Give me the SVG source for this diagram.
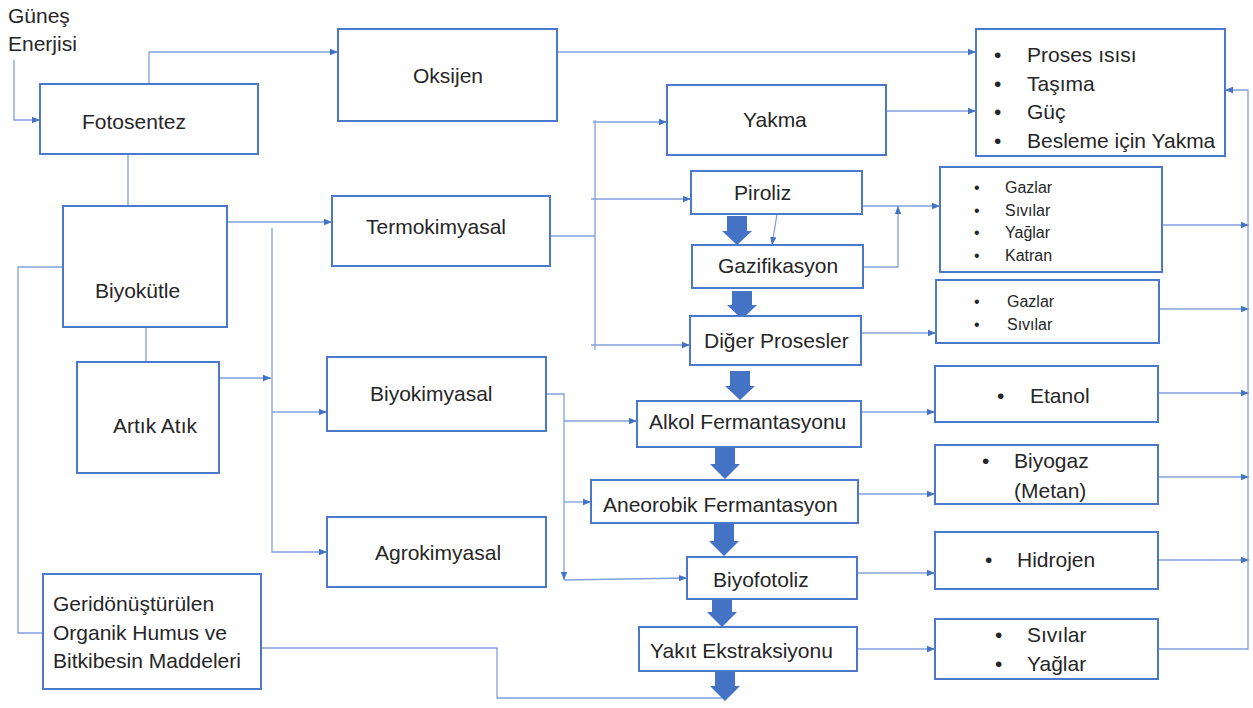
<svg xmlns="http://www.w3.org/2000/svg" width="1253" height="708" viewBox="0 0 1253 708">
<defs>
<marker id="ah" viewBox="0 0 10 10" refX="10" refY="5" markerWidth="8" markerHeight="8" markerUnits="userSpaceOnUse" orient="auto">
<path d="M0,1 L10,5 L0,9 z" fill="#4472C4"/>
</marker>
</defs>
<style>
.box{fill:#fff;stroke:#4A78CC;stroke-width:2}
.t{font-family:"Liberation Sans",Arial,sans-serif;font-size:21px;fill:#262626}
.s{font-family:"Liberation Sans",Arial,sans-serif;font-size:16px;fill:#262626}
.c{fill:none;stroke:#7FA0DC;stroke-width:1.3}
.a{marker-end:url(#ah)}
.big{fill:#4472C4}
</style>
<rect width="1253" height="708" fill="#fff"/>
<g id="connectors">
<path class="c a" d="M14,60 V120 H40"/>
<path class="c a" d="M149,84 V52 H338"/>
<path class="c a" d="M557,52 H976"/>
<path class="c" d="M128,154 V206"/>
<path class="c" d="M63,267 H18 V633 H43"/>
<path class="c" d="M146,327 V362"/>
<path class="c a" d="M227,222 H332"/>
<path class="c a" d="M272,228 V552 H327"/>
<path class="c a" d="M272,412 H327"/>
<path class="c a" d="M219,378 H271"/>
<path class="c" d="M550,236 H595"/>
<path class="c" d="M595,120 V350"/>
<path class="c a" d="M593,122 H667"/>
<path class="c a" d="M591,199 H691"/>
<path class="c a" d="M591,345 H690"/>
<path class="c a" d="M886,111 H976"/>
<path class="c a" d="M862,206 H940"/>
<path class="c a" d="M863,267 H898 V206"/>
<path class="c a" d="M777,214 L772,245"/>
<path class="c a" d="M861,333 H936"/>
<path class="c a" d="M546,394 H564 V580"/>
<path class="c a" d="M564,580 L687,578"/>
<path class="c a" d="M564,421 H637"/>
<path class="c a" d="M564,502 H591"/>
<path class="c a" d="M861,412 H935"/>
<path class="c a" d="M858,494 H935"/>
<path class="c a" d="M857,573 H935"/>
<path class="c a" d="M857,649 H935"/>
<path class="c a" d="M1162,225 H1249"/>
<path class="c a" d="M1159,309 H1249"/>
<path class="c a" d="M1158,393 H1249"/>
<path class="c a" d="M1158,477 H1249"/>
<path class="c a" d="M1158,560 H1249"/>
<path class="c a" d="M1158,649 H1248 V90 H1225"/>
<path class="c" d="M262,648 H497 V698 H722"/>
</g>
<g id="flow-arrows">
<path class="big" d="M727,216 H747 V231 H752 L737,245 L722,231 H727 Z"/>
<path class="big" d="M732,291 H752 V305 H757 L742,319 L727,305 H732 Z"/>
<path class="big" d="M730,371 H750 V386 H755 L740,400 L725,386 H730 Z"/>
<path class="big" d="M715,448 H735 V464 H740 L725,479 L710,464 H715 Z"/>
<path class="big" d="M714,524 H734 V541 H739 L724,556 L709,541 H714 Z"/>
<path class="big" d="M712,598 H732 V612 H737 L722,627 L707,612 H712 Z"/>
<path class="big" d="M715,671 H735 V686 H740 L725,701 L710,686 H715 Z"/>
</g>
<g id="gunes">
<text class="t" x="8" y="23" font-size="20">Güneş</text>
<text class="t" x="8" y="51" font-size="20">Enerjisi</text>
</g>
<g id="fotosentez"><rect class="box" x="40" y="84" width="218" height="70"/><text class="t" x="82" y="129">Fotosentez</text></g>
<g id="oksijen"><rect class="box" x="338" y="29" width="219" height="92"/><text class="t" x="413" y="83">Oksijen</text></g>
<g id="biyokutle"><rect class="box" x="63" y="206" width="164" height="121"/><text class="t" x="95" y="298">Biyokütle</text></g>
<g id="artik"><rect class="box" x="77" y="362" width="142" height="111"/><text class="t" x="113" y="433">Artık Atık</text></g>
<g id="geri"><rect class="box" x="43" y="574" width="218" height="115"/>
<text class="t" x="53" y="611" font-size="22">Geridönüştürülen</text>
<text class="t" x="53" y="640" font-size="22">Organik Humus ve</text>
<text class="t" x="53" y="668" font-size="22">Bitkibesin Maddeleri</text></g>
<g id="termo"><rect class="box" x="332" y="196" width="218" height="70"/><text class="t" x="366" y="234">Termokimyasal</text></g>
<g id="biyokim"><rect class="box" x="327" y="357" width="219" height="74"/><text class="t" x="370" y="401">Biyokimyasal</text></g>
<g id="agro"><rect class="box" x="327" y="517" width="219" height="70"/><text class="t" x="375" y="560">Agrokimyasal</text></g>
<g id="yakma"><rect class="box" x="667" y="85" width="219" height="70"/><text class="t" x="743" y="127">Yakma</text></g>
<g id="piroliz"><rect class="box" x="691" y="171" width="171" height="43"/><text class="t" x="734" y="200">Piroliz</text></g>
<g id="gazifikasyon"><rect class="box" x="692" y="245" width="171" height="43"/><text class="t" x="718" y="273">Gazifikasyon</text></g>
<g id="diger"><rect class="box" x="690" y="316" width="171" height="49"/><text class="t" x="704" y="348">Diğer Prosesler</text></g>
<g id="alkol"><rect class="box" x="637" y="401" width="224" height="46"/><text class="t" x="649" y="429">Alkol Fermantasyonu</text></g>
<g id="aneorobik"><rect class="box" x="591" y="480" width="267" height="43"/><text class="t" x="603" y="512">Aneorobik Fermantasyon</text></g>
<g id="biyofotoliz"><rect class="box" x="687" y="557" width="170" height="42"/><text class="t" x="713" y="587">Biyofotoliz</text></g>
<g id="yakit"><rect class="box" x="639" y="627" width="218" height="44"/><text class="t" x="650" y="658">Yakıt Ekstraksiyonu</text></g>
<g id="proses"><rect class="box" x="976" y="29" width="249" height="127"/>
<text class="t" x="994" y="62">•</text><text class="t" x="1027" y="62">Proses ısısı</text>
<text class="t" x="994" y="91">•</text><text class="t" x="1027" y="91">Taşıma</text>
<text class="t" x="994" y="119">•</text><text class="t" x="1027" y="119">Güç</text>
<text class="t" x="994" y="148">•</text><text class="t" x="1027" y="148">Besleme için Yakma</text></g>
<g id="urunler1"><rect class="box" x="940" y="167" width="222" height="105"/>
<text class="s" x="974" y="193">•</text><text class="s" x="1005" y="193">Gazlar</text>
<text class="s" x="974" y="216">•</text><text class="s" x="1005" y="216">Sıvılar</text>
<text class="s" x="974" y="238">•</text><text class="s" x="1005" y="238">Yağlar</text>
<text class="s" x="974" y="261">•</text><text class="s" x="1005" y="261">Katran</text></g>
<g id="urunler2"><rect class="box" x="936" y="280" width="223" height="63"/>
<text class="s" x="974" y="307">•</text><text class="s" x="1007" y="307">Gazlar</text>
<text class="s" x="974" y="330">•</text><text class="s" x="1007" y="330">Sıvılar</text></g>
<g id="etanol"><rect class="box" x="935" y="366" width="223" height="56"/>
<text class="t" x="997" y="403">•</text><text class="t" x="1030" y="403">Etanol</text></g>
<g id="biyogaz"><rect class="box" x="935" y="445" width="223" height="59"/>
<text class="t" x="982" y="468">•</text><text class="t" x="1014" y="468">Biyogaz</text>
<text class="t" x="1014" y="498">(Metan)</text></g>
<g id="hidrojen"><rect class="box" x="935" y="532" width="223" height="57"/>
<text class="t" x="985" y="567">•</text><text class="t" x="1017" y="567">Hidrojen</text></g>
<g id="sivilar"><rect class="box" x="935" y="619" width="223" height="60"/>
<text class="t" x="995" y="642">•</text><text class="t" x="1027" y="642">Sıvılar</text>
<text class="t" x="995" y="671">•</text><text class="t" x="1027" y="671">Yağlar</text></g>
</svg>
